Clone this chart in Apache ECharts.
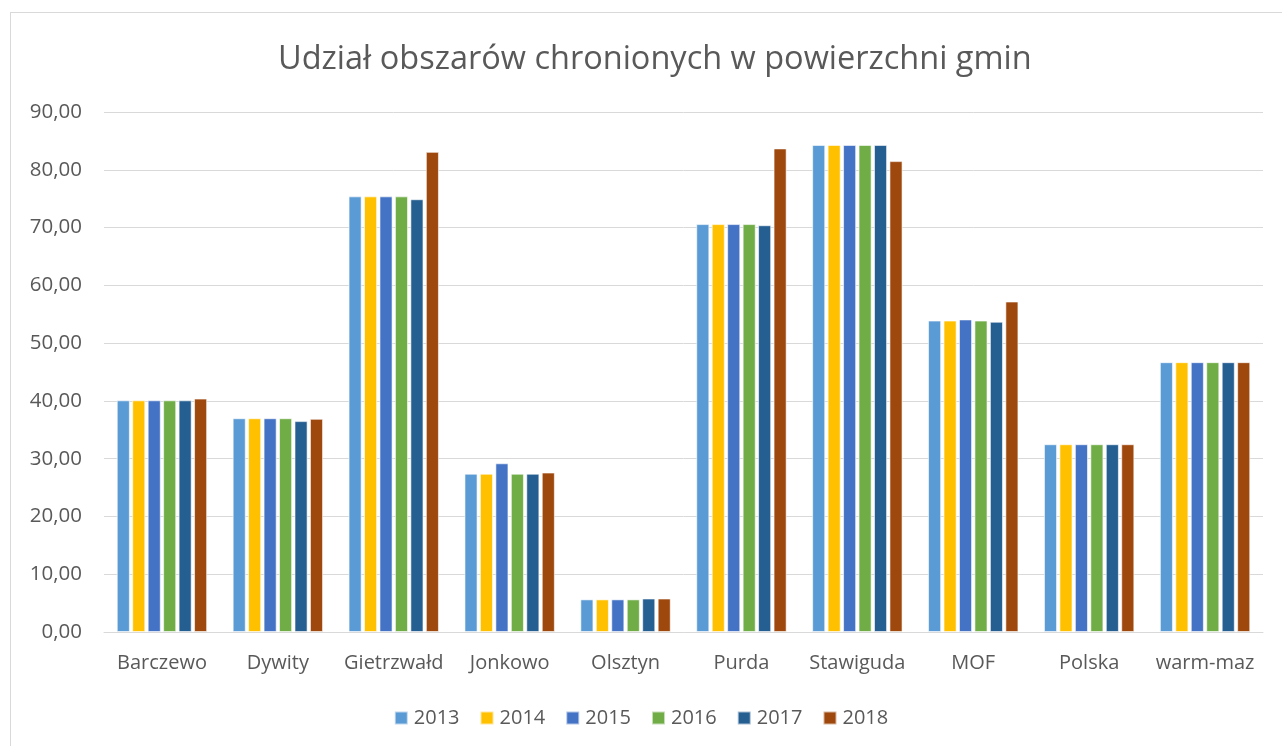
<!DOCTYPE html>
<html><head><meta charset="utf-8">
<script src="https://cdn.jsdelivr.net/npm/echarts@6/dist/echarts.min.js"></script>
<style>
html,body{margin:0;padding:0;background:#fff;}
#frame{position:absolute;left:10px;top:12px;width:1290px;height:760px;border:1px solid #D9D9D9;box-sizing:border-box;}
#c{position:absolute;left:0;top:0;width:1282px;height:746px;}
</style></head>
<body><div id="frame"></div><div id="c"></div>
<script>
const categories = ['Barczewo','Dywity','Gietrzwałd','Jonkowo','Olsztyn','Purda','Stawiguda','MOF','Polska','warm-maz'];
const years = ['2013','2014','2015','2016','2017','2018'];
const v2013 = [40.1, 37.0, 75.4, 27.4, 5.65, 70.6, 84.3, 53.9, 32.5, 46.7];
const v2014 = [40.1, 37.0, 75.4, 27.4, 5.65, 70.6, 84.3, 53.9, 32.5, 46.7];
const v2015 = [40.1, 37.0, 75.4, 29.2, 5.65, 70.6, 84.3, 54.1, 32.5, 46.7];
const v2016 = [40.1, 37.0, 75.4, 27.4, 5.65, 70.6, 84.3, 53.9, 32.5, 46.7];
const v2017 = [40.1, 36.5, 74.9, 27.4, 5.8, 70.4, 84.3, 53.7, 32.5, 46.7];
const v2018 = [40.4, 36.9, 83.1, 27.6, 5.8, 83.7, 81.5, 57.2, 32.5, 46.7];
const colors = ['#5B9BD5','#FFC000','#4472C4','#70AD47','#255E91','#9E480E'];
const seriesData = [v2013, v2014, v2015, v2016, v2017, v2018];
const font = '"Open Sans", sans-serif';
const chart = echarts.init(document.getElementById('c'), null, {renderer:'canvas'});
chart.setOption({
  animation:false,
  color: colors,
  title:{text:'Udział obszarów chronionych w powierzchni gmin', left:273, top:38,
    textStyle:{fontFamily:font, fontSize:32.5, fontWeight:'normal', color:'#595959'}},
  legend:{bottom:13, left:'center', itemWidth:13, itemHeight:13, itemGap:20, icon:'rect',
    textStyle:{fontFamily:font, fontSize:20, color:'#595959', padding:[0,0,0,1]}, data: years},
  grid:{left:104, right:19, top:112, bottom:114, containLabel:false},
  xAxis:{type:'category', data:categories,
    axisLine:{lineStyle:{color:'#D9D9D9', width:1}}, axisTick:{show:false},
    axisLabel:{fontFamily:font, fontSize:20, color:'#595959', margin:21, interval:0}},
  yAxis:{type:'value', min:0, max:90, interval:10,
    axisLine:{show:false}, axisTick:{show:false},
    splitLine:{lineStyle:{color:'#D9D9D9', width:1}},
    axisLabel:{fontFamily:font, fontSize:20.5, color:'#595959', margin:22,
      formatter: v => v.toFixed(2).replace('.', ',')}},
  series: years.map((y,i)=>({name:y, type:'bar', data:seriesData[i],
    barGap:'18%', barCategoryGap:'22%',
    itemStyle:{color:colors[i], borderColor:'rgba(255,255,255,0.6)', borderWidth:1}}))
});
</script></body></html>
